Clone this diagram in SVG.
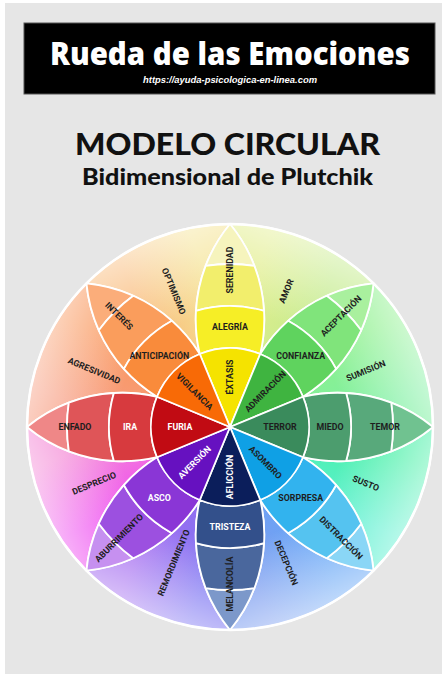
<svg xmlns="http://www.w3.org/2000/svg" width="446" height="674" viewBox="0 0 446 674">
<defs>
<style>
.seg{stroke:#fff;stroke-width:1.8;stroke-linejoin:round}
.fade{fill:url(#fade);stroke:none}
.lb{font-family:Roboto,"DejaVu Sans",sans-serif;font-weight:700;font-size:8.8px;text-anchor:middle;dominant-baseline:central;fill:#1e1e1e}
.w{fill:#fff}
</style>
<linearGradient id="fade" gradientUnits="userSpaceOnUse" x1="262" y1="350" x2="307" y2="236">
<stop offset="0.25" stop-color="#fff" stop-opacity="0"/>
<stop offset="1" stop-color="#fff" stop-opacity="0.6"/>
</linearGradient>
<linearGradient id="gAmor" gradientUnits="userSpaceOnUse" x1="251" y1="279" x2="320" y2="307"><stop offset="0" stop-color="#e2ee8e"/><stop offset="1" stop-color="#c4eb8c"/></linearGradient>
<linearGradient id="gSum" gradientUnits="userSpaceOnUse" x1="251" y1="279" x2="320" y2="307"><stop offset="0" stop-color="#8cf08c"/><stop offset="1" stop-color="#7ff0a2"/></linearGradient>
<linearGradient id="gSusto" gradientUnits="userSpaceOnUse" x1="251" y1="279" x2="320" y2="307"><stop offset="0" stop-color="#4af0a8"/><stop offset="1" stop-color="#5cf0d0"/></linearGradient>
<linearGradient id="gDec" gradientUnits="userSpaceOnUse" x1="251" y1="279" x2="320" y2="307"><stop offset="0" stop-color="#66a6f6"/><stop offset="1" stop-color="#7a9cf0"/></linearGradient>
<linearGradient id="gRem" gradientUnits="userSpaceOnUse" x1="251" y1="279" x2="320" y2="307"><stop offset="0" stop-color="#7c74f2"/><stop offset="1" stop-color="#a46cf0"/></linearGradient>
<linearGradient id="gDesp" gradientUnits="userSpaceOnUse" x1="251" y1="279" x2="320" y2="307"><stop offset="0" stop-color="#ee4cf0"/><stop offset="1" stop-color="#f48ad6"/></linearGradient>
<linearGradient id="gAgr" gradientUnits="userSpaceOnUse" x1="251" y1="279" x2="320" y2="307"><stop offset="0" stop-color="#f79c80"/><stop offset="1" stop-color="#f9985e"/></linearGradient>
<linearGradient id="gOpt" gradientUnits="userSpaceOnUse" x1="251" y1="279" x2="320" y2="307"><stop offset="0" stop-color="#f9bc7c"/><stop offset="1" stop-color="#f5e496"/></linearGradient>
</defs>

<rect width="446" height="674" fill="#fff"/>
<rect x="5" y="3" width="437" height="671" fill="#e6e6e6"/>

<g id="header">
<rect x="24" y="23" width="411" height="71" fill="#000" stroke="#555" stroke-width="1"/>
<text x="230" y="65" font-family="'Open Sans',Lato,sans-serif" font-weight="800" font-size="32" fill="#fff" text-anchor="middle" textLength="360" lengthAdjust="spacingAndGlyphs">Rueda de las Emociones</text>
<text x="230" y="83" font-family="'Liberation Sans',Arial,sans-serif" font-weight="700" font-style="italic" font-size="8.5" fill="#fff" text-anchor="middle" textLength="174" lengthAdjust="spacingAndGlyphs">https://ayuda-psicologica-en-linea.com</text>
</g>
<g id="title">
<text x="227.5" y="155" font-family="Lato,'Open Sans',sans-serif" font-weight="900" font-size="30" fill="#111" text-anchor="middle" textLength="305" lengthAdjust="spacingAndGlyphs">MODELO CIRCULAR</text>
<text x="227.5" y="185" font-family="Lato,'Open Sans',sans-serif" font-weight="900" font-size="22.5" fill="#111" text-anchor="middle" textLength="291" lengthAdjust="spacingAndGlyphs">Bidimensional de Plutchik</text>
</g>

<!-- dyads -->
<g id="amor"><path class="seg" fill="url(#gAmor)" d="M260.23 354.01 A150 150 0 0 0 230 224 A203 203 0 0 1 373.54 283.46 A150 150 0 0 0 260.23 354.01 Z"/><path class="fade" d="M260.23 354.01 A150 150 0 0 0 230 224 A203 203 0 0 1 373.54 283.46 A150 150 0 0 0 260.23 354.01 Z"/><text class="lb" x="286.25" y="291.19" transform="rotate(-67.5 286.25 291.19)">AMOR</text></g>
<g id="sumision"><path class="seg" fill="url(#gSum)" transform="rotate(45 230 427)" d="M260.23 354.01 A150 150 0 0 0 230 224 A203 203 0 0 1 373.54 283.46 A150 150 0 0 0 260.23 354.01 Z"/><path class="fade" transform="rotate(45 230 427)" d="M260.23 354.01 A150 150 0 0 0 230 224 A203 203 0 0 1 373.54 283.46 A150 150 0 0 0 260.23 354.01 Z"/><text class="lb" x="365.81" y="370.75" transform="rotate(-22.5 365.81 370.75)">SUMISIÓN</text></g>
<g id="susto"><path class="seg" fill="url(#gSusto)" transform="rotate(90 230 427)" d="M260.23 354.01 A150 150 0 0 0 230 224 A203 203 0 0 1 373.54 283.46 A150 150 0 0 0 260.23 354.01 Z"/><path class="fade" transform="rotate(90 230 427)" d="M260.23 354.01 A150 150 0 0 0 230 224 A203 203 0 0 1 373.54 283.46 A150 150 0 0 0 260.23 354.01 Z"/><text class="lb" x="365.81" y="483.25" transform="rotate(22.5 365.81 483.25)">SUSTO</text></g>
<g id="decepcion"><path class="seg" fill="url(#gDec)" transform="rotate(135 230 427)" d="M260.23 354.01 A150 150 0 0 0 230 224 A203 203 0 0 1 373.54 283.46 A150 150 0 0 0 260.23 354.01 Z"/><path class="fade" transform="rotate(135 230 427)" d="M260.23 354.01 A150 150 0 0 0 230 224 A203 203 0 0 1 373.54 283.46 A150 150 0 0 0 260.23 354.01 Z"/><text class="lb" x="286.25" y="562.81" transform="rotate(67.5 286.25 562.81)">DECEPCIÓN</text></g>
<g id="remordimiento"><path class="seg" fill="url(#gRem)" transform="rotate(180 230 427)" d="M260.23 354.01 A150 150 0 0 0 230 224 A203 203 0 0 1 373.54 283.46 A150 150 0 0 0 260.23 354.01 Z"/><path class="fade" transform="rotate(180 230 427)" d="M260.23 354.01 A150 150 0 0 0 230 224 A203 203 0 0 1 373.54 283.46 A150 150 0 0 0 260.23 354.01 Z"/><text class="lb" x="173.75" y="562.81" transform="rotate(-67.5 173.75 562.81)">REMORDIMIENTO</text></g>
<g id="desprecio"><path class="seg" fill="url(#gDesp)" transform="rotate(225 230 427)" d="M260.23 354.01 A150 150 0 0 0 230 224 A203 203 0 0 1 373.54 283.46 A150 150 0 0 0 260.23 354.01 Z"/><path class="fade" transform="rotate(225 230 427)" d="M260.23 354.01 A150 150 0 0 0 230 224 A203 203 0 0 1 373.54 283.46 A150 150 0 0 0 260.23 354.01 Z"/><text class="lb" x="94.19" y="483.25" transform="rotate(-22.5 94.19 483.25)">DESPRECIO</text></g>
<g id="agresividad"><path class="seg" fill="url(#gAgr)" transform="rotate(270 230 427)" d="M260.23 354.01 A150 150 0 0 0 230 224 A203 203 0 0 1 373.54 283.46 A150 150 0 0 0 260.23 354.01 Z"/><path class="fade" transform="rotate(270 230 427)" d="M260.23 354.01 A150 150 0 0 0 230 224 A203 203 0 0 1 373.54 283.46 A150 150 0 0 0 260.23 354.01 Z"/><text class="lb" x="94.19" y="370.75" transform="rotate(22.5 94.19 370.75)">AGRESIVIDAD</text></g>
<g id="optimismo"><path class="seg" fill="url(#gOpt)" transform="rotate(315 230 427)" d="M260.23 354.01 A150 150 0 0 0 230 224 A203 203 0 0 1 373.54 283.46 A150 150 0 0 0 260.23 354.01 Z"/><path class="fade" transform="rotate(315 230 427)" d="M260.23 354.01 A150 150 0 0 0 230 224 A203 203 0 0 1 373.54 283.46 A150 150 0 0 0 260.23 354.01 Z"/><text class="lb" x="173.75" y="291.19" transform="rotate(67.5 173.75 291.19)">OPTIMISMO</text></g>

<!-- petal tips -->
<g id="tip-yellow"><path class="seg" fill="#f6f4bd" d="M205.62 265.83 A150 150 0 0 1 230 224 A150 150 0 0 1 254.38 265.83 A163 163 0 0 0 205.62 265.83 Z"/></g>
<g id="tip-green"><path class="seg" fill="#a9f09e" transform="rotate(45 230 427)" d="M205.62 265.83 A150 150 0 0 1 230 224 A150 150 0 0 1 254.38 265.83 A163 163 0 0 0 205.62 265.83 Z"/></g>
<g id="tip-teal"><path class="seg" fill="#70c290" transform="rotate(90 230 427)" d="M205.62 265.83 A150 150 0 0 1 230 224 A150 150 0 0 1 254.38 265.83 A163 163 0 0 0 205.62 265.83 Z"/></g>
<g id="tip-blue"><path class="seg" fill="#8ad6f6" transform="rotate(135 230 427)" d="M205.62 265.83 A150 150 0 0 1 230 224 A150 150 0 0 1 254.38 265.83 A163 163 0 0 0 205.62 265.83 Z"/></g>
<g id="tip-navy"><path class="seg" fill="#7c98ca" transform="rotate(180 230 427)" d="M205.62 265.83 A150 150 0 0 1 230 224 A150 150 0 0 1 254.38 265.83 A163 163 0 0 0 205.62 265.83 Z"/></g>
<g id="tip-purple"><path class="seg" fill="#c690f0" transform="rotate(225 230 427)" d="M205.62 265.83 A150 150 0 0 1 230 224 A150 150 0 0 1 254.38 265.83 A163 163 0 0 0 205.62 265.83 Z"/></g>
<g id="tip-red"><path class="seg" fill="#ef8787" transform="rotate(270 230 427)" d="M205.62 265.83 A150 150 0 0 1 230 224 A150 150 0 0 1 254.38 265.83 A163 163 0 0 0 205.62 265.83 Z"/></g>
<g id="tip-orange"><path class="seg" fill="#fbad7a" transform="rotate(315 230 427)" d="M205.62 265.83 A150 150 0 0 1 230 224 A150 150 0 0 1 254.38 265.83 A163 163 0 0 0 205.62 265.83 Z"/></g>

<!-- outer ring segments -->
<g id="serenidad"><path class="seg" fill="#f2ee6c" d="M195.98 310.88 A150 150 0 0 1 205.62 265.83 A163 163 0 0 1 254.38 265.83 A150 150 0 0 1 264.02 310.88 A121 121 0 0 0 195.98 310.88 Z"/><text class="lb" x="230" y="270" transform="rotate(-90 230 270)">SERENIDAD</text></g>
<g id="aceptacion"><path class="seg" fill="#80e47b" transform="rotate(45 230 427)" d="M195.98 310.88 A150 150 0 0 1 205.62 265.83 A163 163 0 0 1 254.38 265.83 A150 150 0 0 1 264.02 310.88 A121 121 0 0 0 195.98 310.88 Z"/><text class="lb" x="341" y="316" transform="rotate(-45 341 316)">ACEPTACIÓN</text></g>
<g id="temor"><path class="seg" fill="#58a97b" transform="rotate(90 230 427)" d="M195.98 310.88 A150 150 0 0 1 205.62 265.83 A163 163 0 0 1 254.38 265.83 A150 150 0 0 1 264.02 310.88 A121 121 0 0 0 195.98 310.88 Z"/><text class="lb" x="385" y="427">TEMOR</text></g>
<g id="distraccion"><path class="seg" fill="#55c3f0" transform="rotate(135 230 427)" d="M195.98 310.88 A150 150 0 0 1 205.62 265.83 A163 163 0 0 1 254.38 265.83 A150 150 0 0 1 264.02 310.88 A121 121 0 0 0 195.98 310.88 Z"/><text class="lb" x="341" y="538" transform="rotate(45 341 538)">DISTRACCIÓN</text></g>
<g id="melancolia"><path class="seg" fill="#4a679d" transform="rotate(180 230 427)" d="M195.98 310.88 A150 150 0 0 1 205.62 265.83 A163 163 0 0 1 254.38 265.83 A150 150 0 0 1 264.02 310.88 A121 121 0 0 0 195.98 310.88 Z"/><text class="lb" x="230" y="584" transform="rotate(-90 230 584)">MELANCOLÍA</text></g>
<g id="aburrimiento"><path class="seg" fill="#9c50e0" transform="rotate(225 230 427)" d="M195.98 310.88 A150 150 0 0 1 205.62 265.83 A163 163 0 0 1 254.38 265.83 A150 150 0 0 1 264.02 310.88 A121 121 0 0 0 195.98 310.88 Z"/><text class="lb" x="119" y="538" transform="rotate(-45 119 538)">ABURRIMIENTO</text></g>
<g id="enfado"><path class="seg" fill="#df5558" transform="rotate(270 230 427)" d="M195.98 310.88 A150 150 0 0 1 205.62 265.83 A163 163 0 0 1 254.38 265.83 A150 150 0 0 1 264.02 310.88 A121 121 0 0 0 195.98 310.88 Z"/><text class="lb" x="75" y="427">ENFADO</text></g>
<g id="interes"><path class="seg" fill="#fa9d5c" transform="rotate(315 230 427)" d="M195.98 310.88 A150 150 0 0 1 205.62 265.83 A163 163 0 0 1 254.38 265.83 A150 150 0 0 1 264.02 310.88 A121 121 0 0 0 195.98 310.88 Z"/><text class="lb" x="119" y="316" transform="rotate(45 119 316)">INTERÉS</text></g>

<!-- middle ring segments -->
<g id="alegria"><path class="seg" fill="#f6ee26" d="M199.77 354.01 A150 150 0 0 1 195.98 310.88 A121 121 0 0 1 264.02 310.88 A150 150 0 0 1 260.23 354.01 A79 79 0 0 0 199.77 354.01 Z"/><text class="lb" x="230" y="327">ALEGRÍA</text></g>
<g id="confianza"><path class="seg" fill="#5fd35e" transform="rotate(45 230 427)" d="M199.77 354.01 A150 150 0 0 1 195.98 310.88 A121 121 0 0 1 264.02 310.88 A150 150 0 0 1 260.23 354.01 A79 79 0 0 0 199.77 354.01 Z"/><text class="lb" x="300.7" y="356.3">CONFIANZA</text></g>
<g id="miedo"><path class="seg" fill="#4c9d6e" transform="rotate(90 230 427)" d="M199.77 354.01 A150 150 0 0 1 195.98 310.88 A121 121 0 0 1 264.02 310.88 A150 150 0 0 1 260.23 354.01 A79 79 0 0 0 199.77 354.01 Z"/><text class="lb" x="330" y="427">MIEDO</text></g>
<g id="sorpresa"><path class="seg" fill="#32b3ee" transform="rotate(135 230 427)" d="M199.77 354.01 A150 150 0 0 1 195.98 310.88 A121 121 0 0 1 264.02 310.88 A150 150 0 0 1 260.23 354.01 A79 79 0 0 0 199.77 354.01 Z"/><text class="lb" x="300.7" y="497.7">SORPRESA</text></g>
<g id="tristeza"><path class="seg" fill="#33508b" transform="rotate(180 230 427)" d="M199.77 354.01 A150 150 0 0 1 195.98 310.88 A121 121 0 0 1 264.02 310.88 A150 150 0 0 1 260.23 354.01 A79 79 0 0 0 199.77 354.01 Z"/><text class="lb w" x="230" y="527">TRISTEZA</text></g>
<g id="asco"><path class="seg" fill="#8a36d6" transform="rotate(225 230 427)" d="M199.77 354.01 A150 150 0 0 1 195.98 310.88 A121 121 0 0 1 264.02 310.88 A150 150 0 0 1 260.23 354.01 A79 79 0 0 0 199.77 354.01 Z"/><text class="lb w" x="159.3" y="497.7">ASCO</text></g>
<g id="ira"><path class="seg" fill="#d73a3e" transform="rotate(270 230 427)" d="M199.77 354.01 A150 150 0 0 1 195.98 310.88 A121 121 0 0 1 264.02 310.88 A150 150 0 0 1 260.23 354.01 A79 79 0 0 0 199.77 354.01 Z"/><text class="lb w" x="130" y="427">IRA</text></g>
<g id="anticipacion"><path class="seg" fill="#f98b3b" transform="rotate(315 230 427)" d="M199.77 354.01 A150 150 0 0 1 195.98 310.88 A121 121 0 0 1 264.02 310.88 A150 150 0 0 1 260.23 354.01 A79 79 0 0 0 199.77 354.01 Z"/><text class="lb" x="159.3" y="356.3">ANTICIPACIÓN</text></g>

<!-- inner wedges -->
<g id="extasis"><path class="seg" fill="#f5e300" d="M230 427 L199.77 354.01 A79 79 0 0 1 260.23 354.01 Z"/><text class="lb" x="230" y="377" transform="rotate(-90 230 377)">ÉXTASIS</text></g>
<g id="admiracion"><path class="seg" fill="#3fb440" transform="rotate(45 230 427)" d="M230 427 L199.77 354.01 A79 79 0 0 1 260.23 354.01 Z"/><text class="lb" x="265.36" y="391.64" transform="rotate(-45 265.36 391.64)">ADMIRACIÓN</text></g>
<g id="terror"><path class="seg" fill="#3a8b5c" transform="rotate(90 230 427)" d="M230 427 L199.77 354.01 A79 79 0 0 1 260.23 354.01 Z"/><text class="lb" x="280" y="427">TERROR</text></g>
<g id="asombro"><path class="seg" fill="#0fa0e5" transform="rotate(135 230 427)" d="M230 427 L199.77 354.01 A79 79 0 0 1 260.23 354.01 Z"/><text class="lb" x="265.36" y="462.36" transform="rotate(45 265.36 462.36)">ASOMBRO</text></g>
<g id="afliccion"><path class="seg" fill="#0b1e5b" transform="rotate(180 230 427)" d="M230 427 L199.77 354.01 A79 79 0 0 1 260.23 354.01 Z"/><text class="lb w" x="230" y="477" transform="rotate(-90 230 477)">AFLICCIÓN</text></g>
<g id="aversion"><path class="seg" fill="#6611c0" transform="rotate(225 230 427)" d="M230 427 L199.77 354.01 A79 79 0 0 1 260.23 354.01 Z"/><text class="lb w" x="194.64" y="462.36" transform="rotate(-45 194.64 462.36)">AVERSIÓN</text></g>
<g id="furia"><path class="seg" fill="#c10b13" transform="rotate(270 230 427)" d="M230 427 L199.77 354.01 A79 79 0 0 1 260.23 354.01 Z"/><text class="lb w" x="180" y="427">FURIA</text></g>
<g id="vigilancia"><path class="seg" fill="#f86a06" transform="rotate(315 230 427)" d="M230 427 L199.77 354.01 A79 79 0 0 1 260.23 354.01 Z"/><text class="lb" x="194.64" y="391.64" transform="rotate(45 194.64 391.64)">VIGILANCIA</text></g>

<g id="rim"><circle cx="230" cy="427" r="203" fill="none" stroke="#fff" stroke-width="2.5"/></g>
</svg>
